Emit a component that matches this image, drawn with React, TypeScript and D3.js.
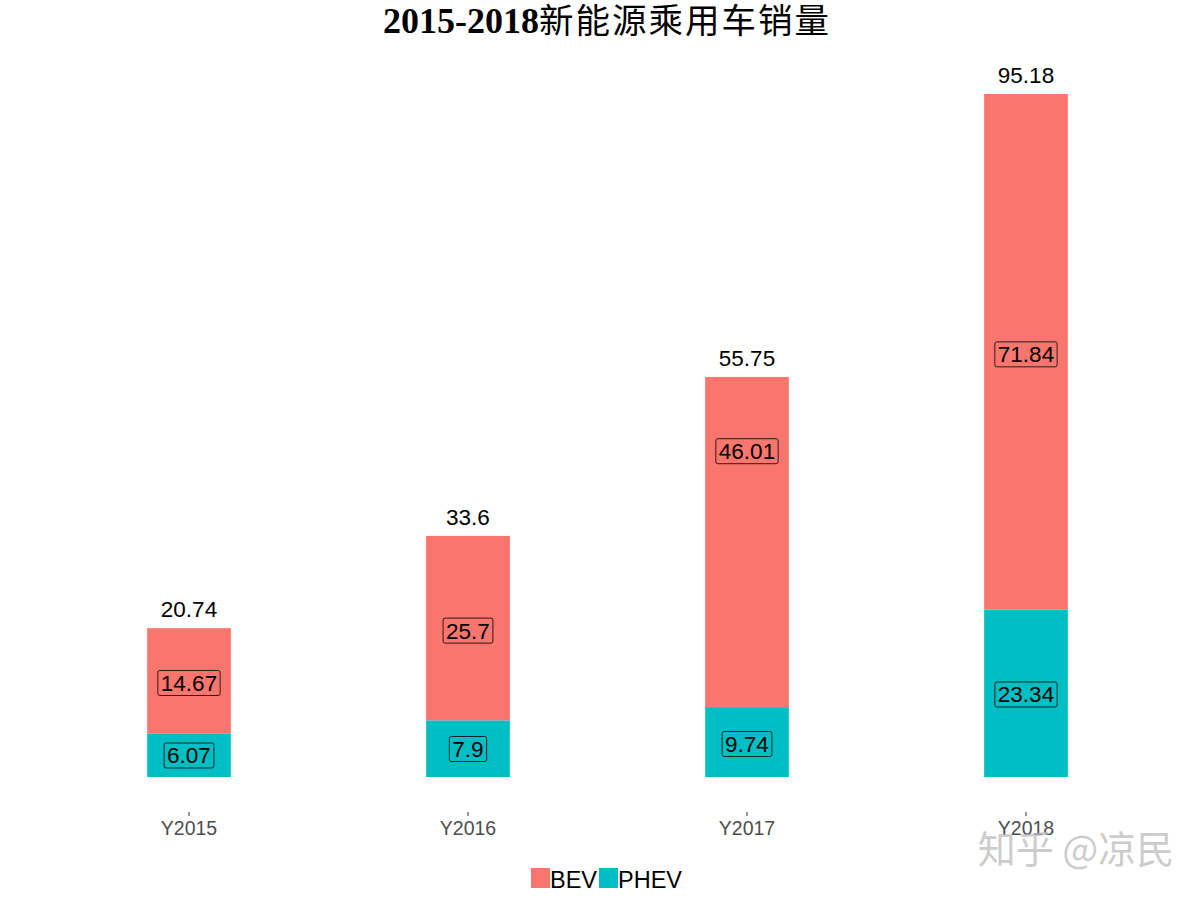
import React from "react";
import * as d3 from "d3";

const categories = ["Y2015", "Y2016", "Y2017", "Y2018"];
const phev = [6.07, 7.9, 9.74, 23.34];
const bev = [14.67, 25.7, 46.01, 71.84];
const totals = [20.74, 33.6, 55.75, 95.18];
// label anchor values (data units) as placed in the original chart
const phevLabelAt = [3.0, 3.9, 4.6, 11.5];
const bevLabelAt = [13.1, 20.4, 45.4, 58.9];
const seriesNames = ["BEV", "PHEV"];
const colors = ["#F8766D", "#00BFC4"];

const W = 1200;
const H = 899;

export default function App() {
  const x = d3
    .scaleBand<string>()
    .domain(categories)
    .range([49.5, 1165.5])
    .paddingInner(0.7)
    .paddingOuter(0.35);
  const y = d3.scaleLinear().domain([0, 95.18]).range([777, 94]);
  const bw = x.bandwidth();
  const font = "'Liberation Sans', Arial, sans-serif";
  const lblSize = 22.5;
  const charW = (s: string) =>
    s.split("").reduce((a, ch) => a + (ch === "." ? 0.278 : 0.556), 0) * lblSize;

  return (
    <svg width={W} height={H} style={{ position: "absolute", left: 0, top: 0, background: "#fff" }}>
      <rect x={0} y={0} width={W} height={H} fill="#fff" />
      <text x={383} y={33} fill="#000">
        <tspan fontSize={36} fontWeight="bold" fontFamily="'Liberation Serif', serif">
          2015-2018
        </tspan>
        <tspan fontSize={34.5} letterSpacing={2} fontWeight="normal" fontFamily="'Noto Sans CJK SC', sans-serif">
          新能源乘用车销量
        </tspan>
      </text>
      {categories.map((c, i) => {
        const x0 = x(c)!;
        const cx = x0 + bw / 2;
        const yP = y(phev[i]);
        const yB = y(phev[i] + bev[i]);
        const segs = [
          { v: phev[i], top: yP, bot: y(0), color: colors[1], at: phevLabelAt[i] },
          { v: bev[i], top: yB, bot: yP, color: colors[0], at: bevLabelAt[i] },
        ];
        return (
          <g key={c}>
            {segs.map((s, j) => (
              <rect key={j} x={x0} y={s.top} width={bw} height={s.bot - s.top} fill={s.color} />
            ))}
            {segs.map((s, j) => {
              const label = String(s.v);
              const tw = charW(label) + 6;
              const my = y(s.at);
              return (
                <g key={"l" + j}>
                  <rect
                    x={cx - tw / 2}
                    y={my - 12.5}
                    width={tw}
                    height={25}
                    rx={2}
                    fill="none"
                    stroke="#000"
                    strokeWidth={0.8}
                  />
                  <text x={cx} y={my + 8} textAnchor="middle" fontSize={lblSize} fontFamily={font} fill="#000">
                    {label}
                  </text>
                </g>
              );
            })}
            <text x={cx} y={y(totals[i]) - 11} textAnchor="middle" fontSize={lblSize} fontFamily={font} fill="#000">
              {totals[i]}
            </text>
            <line x1={cx} x2={cx} y1={812} y2={816} stroke="#333" strokeWidth={1} />
            <text x={cx} y={835} textAnchor="middle" fontSize={19.5} fontFamily={font} fill="#4D4D4D">
              {c}
            </text>
          </g>
        );
      })}
      <g>
        <rect x={531} y={868} width={19} height={20} fill={colors[0]} />
        <text x={550} y={888} fontSize={23.5} fontFamily={font} fill="#000">
          {seriesNames[0]}
        </text>
        <rect x={599} y={868} width={19} height={20} fill={colors[1]} />
        <text x={618} y={888} fontSize={23.5} fontFamily={font} fill="#000">
          {seriesNames[1]}
        </text>
      </g>
      <text
        x={1076}
        y={863}
        textAnchor="middle"
        fontSize={38}
        fontFamily="'Noto Sans CJK SC', sans-serif"
        fill="#bbbbbb"
        fillOpacity={0.75}
      >
        知乎 @凉民
      </text>
    </svg>
  );
}
